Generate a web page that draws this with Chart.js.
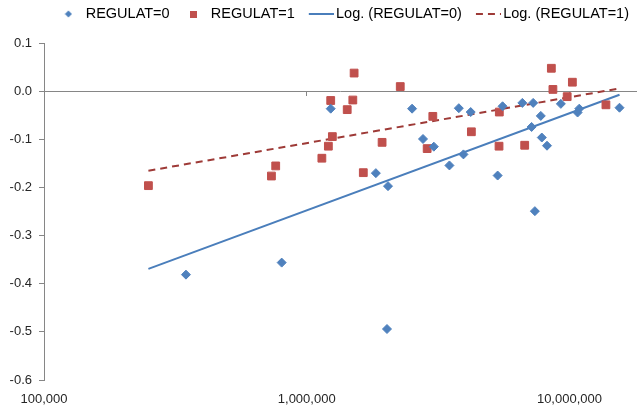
<!DOCTYPE html>
<html>
<head>
<meta charset="utf-8">
<script src="https://cdn.jsdelivr.net/npm/chart.js@4.4.1/dist/chart.umd.min.js"></script>
<style>
  html, body { margin: 0; padding: 0; background: #fff; }
  canvas { display: block; }
</style>
</head>
<body>
<canvas id="chart" width="643" height="415"></canvas>
<script>
// REGULAT=0 observations
const regulat0X = [347000, 803000, 1234000, 1833000, 2039000, 2021000, 2518000, 2771000, 3047000,
  3493000, 3793000, 3950000, 4209000, 5330000, 5566000, 6618000, 7178000, 7278000, 7386000,
  7780000, 7848000, 8215000, 9275000, 10740000, 10900000, 15510000];
const regulat0Y = [-0.381, -0.356, -0.036, -0.170, -0.197, -0.494, -0.036, -0.099, -0.115,
  -0.154, -0.035, -0.131, -0.043, -0.175, -0.031, -0.024, -0.074, -0.024, -0.249,
  -0.051, -0.096, -0.113, -0.026, -0.044, -0.036, -0.034];

// REGULAT=1 observations
const regulat1X = [249700, 734000, 762000, 1142000, 1209000, 1234000, 1252000, 1426000, 1498000,
  1515000, 1642000, 1936000, 2270000, 2874000, 3020000, 4234000, 5409000, 5395000, 6756000,
  8534000, 8652000, 9804000, 10260000, 13770000];
const regulat1Y = [-0.196, -0.176, -0.155, -0.139, -0.114, -0.019, -0.094, -0.038, -0.018,
  0.038, -0.169, -0.106, 0.010, -0.119, -0.052, -0.084, -0.043, -0.114, -0.112,
  0.048, 0.004, -0.011, 0.019, -0.028];

// logarithmic trendlines (straight on a log axis), ends
const trendX = [249700, 15510000];
const trend0Y = [-0.369, -0.007];
const trend1Y = [-0.165, 0.006];

const xTickValues = [100000, 1000000, 10000000];

const FONT = "'Liberation Sans', Arial, sans-serif";
const BLUE = "#4F81BD";
const RED = "#C0504D";
const TREND_BLUE = "#4A7EBB";
const TREND_RED = "#9E3A37";
const AXIS_GREY = "#868686";

const toPoints = (xs, ys) => xs.map((x, i) => ({ x, y: ys[i] }));
const onlyDecades = (axis) => {
  axis.ticks = axis.ticks.filter(t => xTickValues.includes(t.value));
};

function legendIcon(width, height, draw) {
  const c = document.createElement("canvas");
  c.width = width;
  c.height = height;
  draw(c.getContext("2d"));
  return c;
}

const icons = [
  legendIcon(8, 8, ctx => {
    ctx.fillStyle = BLUE;
    ctx.beginPath();
    ctx.moveTo(4, 0.5); ctx.lineTo(7.5, 4); ctx.lineTo(4, 7.5); ctx.lineTo(0.5, 4);
    ctx.fill();
  }),
  legendIcon(7, 7, ctx => {
    ctx.fillStyle = RED;
    ctx.fillRect(0, 0, 7, 7);
  }),
  legendIcon(30, 4, ctx => {
    ctx.strokeStyle = TREND_BLUE;
    ctx.lineWidth = 2;
    ctx.beginPath(); ctx.moveTo(5, 2); ctx.lineTo(30, 2); ctx.stroke();
  }),
  legendIcon(30, 4, ctx => {
    ctx.strokeStyle = TREND_RED;
    ctx.lineWidth = 2;
    ctx.setLineDash([7, 5]);
    ctx.beginPath(); ctx.moveTo(5, 2); ctx.lineTo(30, 2); ctx.stroke();
  }),
];

new Chart(document.getElementById("chart"), {
  type: "scatter",
  data: {
    datasets: [
      {
        label: "REGULAT=0",
        data: toPoints(regulat0X, regulat0Y),
        pointStyle: "rectRot",
        pointRadius: 4.5,
        backgroundColor: BLUE,
        borderColor: BLUE,
        pointBorderWidth: 1,
      },
      {
        label: "REGULAT=1",
        data: toPoints(regulat1X, regulat1Y),
        pointStyle: "rect",
        pointRadius: 5.5,
        backgroundColor: RED,
        borderColor: RED,
        pointBorderWidth: 1,
      },
      {
        label: "Log. (REGULAT=0)",
        data: toPoints(trendX, trend0Y),
        showLine: true,
        pointRadius: 0,
        borderColor: TREND_BLUE,
        borderWidth: 2,
      },
      {
        label: "Log. (REGULAT=1)",
        data: toPoints(trendX, trend1Y),
        showLine: true,
        pointRadius: 0,
        borderColor: TREND_RED,
        borderWidth: 2,
        borderDash: [7, 5],
      },
    ],
  },
  options: {
    responsive: false,
    animation: false,
    layout: { padding: { top: -7.25, left: 0, right: 0, bottom: 0 } },
    scales: {
      x: {
        type: "logarithmic",
        min: 100000,
        max: 18000000,
        position: "bottom",
        afterBuildTicks: onlyDecades,
        afterFit: s => { s.height = 35; },
        grid: { display: false, drawTicks: false },
        border: { display: false },
        ticks: {
          padding: 12,
          color: "#262626",
          font: { family: FONT, size: 13 },
          autoSkip: false,
          maxRotation: 0,
          callback: v => Number(v).toLocaleString("en-US"),
        },
      },
      x2: {
        axis: "x",
        type: "logarithmic",
        min: 100000,
        max: 18000000,
        position: { y: 0 },
        afterBuildTicks: onlyDecades,
        grid: { drawOnChartArea: false, tickLength: 4, color: AXIS_GREY },
        border: { color: AXIS_GREY },
        ticks: { display: false },
      },
      y: {
        min: -0.6,
        max: 0.1,
        afterFit: s => { s.width = 44; },
        grid: { drawOnChartArea: false, tickLength: 5, color: AXIS_GREY },
        border: { color: AXIS_GREY },
        ticks: {
          stepSize: 0.1,
          padding: 7,
          color: "#262626",
          font: { family: FONT, size: 13 },
          callback: v => (Math.abs(v) < 1e-9 ? "0.0" : v.toFixed(1)),
        },
      },
    },
    plugins: {
      tooltip: { enabled: false },
      subtitle: { display: true, text: "", weight: 500, font: { size: 10 }, padding: 0 },
      legend: {
        align: "end",
        labels: {
          usePointStyle: true,
          pointStyleWidth: 20,
          padding: 14,
          color: "#000",
          font: { family: FONT, size: 14.5 },
          generateLabels(chart) {
            const items = Chart.defaults.plugins.legend.labels.generateLabels(chart);
            items.forEach(item => { item.pointStyle = icons[item.datasetIndex]; });
            return items;
          },
        },
      },
    },
  },
});
</script>
</body>
</html>
